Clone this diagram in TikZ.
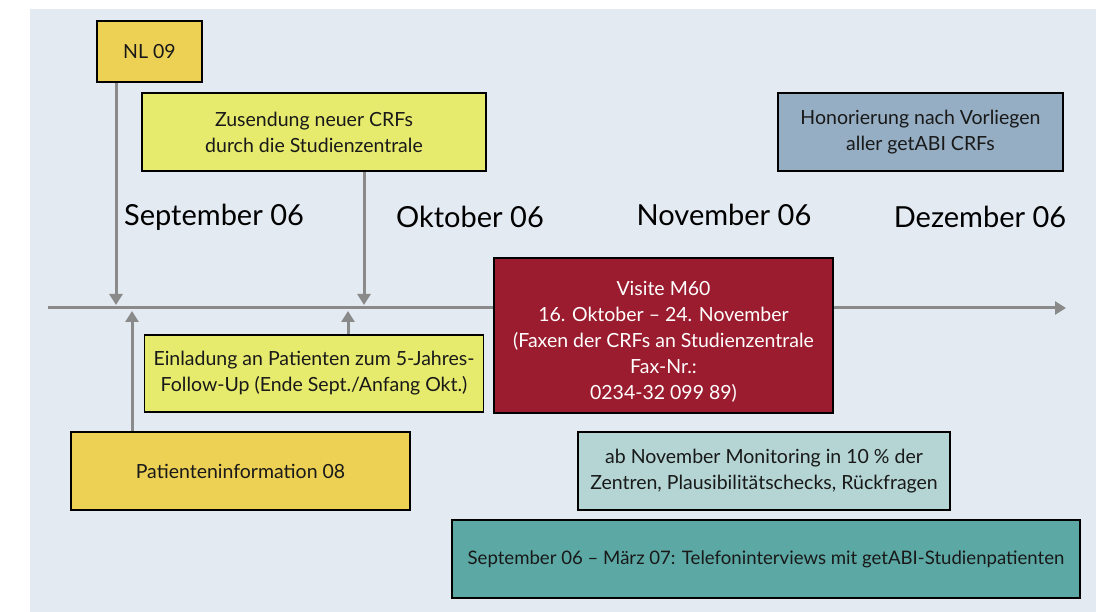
\documentclass[tikz,border=0pt]{standalone}
\usepackage{fontspec}
\setmainfont{Lato}
\usetikzlibrary{arrows.meta}
\definecolor{bg}{HTML}{E3EAF2}
\definecolor{gold}{HTML}{EDD155}
\definecolor{lemon}{HTML}{E6EA6D}
\definecolor{wine}{HTML}{9B1C2E}
\definecolor{slate}{HTML}{95AEC3}
\definecolor{mint}{HTML}{B4D5D4}
\definecolor{teal2}{HTML}{5BA8A4}
\definecolor{axisgray}{HTML}{8A8A8A}
\tikzset{
  box/.style={draw=black, line width=1.5pt, align=center, inner sep=0pt,
    font=\fontsize{19.5}{26}\selectfont, text=black!90},
  month/.style={font=\fontsize{29}{32}\selectfont, text=black},
  arr/.style={draw=axisgray, line width=3pt, -{Triangle[width=13pt,length=11pt]}},
}
\begin{document}
\begin{tikzpicture}[x=1pt,y=-1pt]
\useasboundingbox (0,0) rectangle (1096,612);
\fill[bg] (30,9) rectangle (1096,612);

% axis
\coordinate (axstart) at (48,308);
\coordinate (axend) at (1066,308);
\draw[arr] (axstart) -- (axend);

% month labels
\node[month] (sep) at (214,217) {September 06};
\node[month] (okt) at (470,217) {Oktober 06};
\node[month] (nov) at (724,215) {November 06};
\node[month] (dez) at (980,217) {Dezember 06};

% boxes
\node[box, fill=gold, minimum width=105pt, minimum height=61pt] (nl) at (149.5,51.5) {NL 09};
\node[box, fill=lemon, minimum width=344pt, minimum height=78pt] (zus) at (314,132) {Zusendung neuer CRFs\\durch die Studienzentrale};
\node[box, fill=slate, minimum width=285pt, minimum height=78pt] (hon) at (920.5,132) {Honorierung nach Vorliegen\\aller getABI CRFs};
\node[box, fill=wine, text=white, minimum width=339pt, minimum height=155pt] (vis) at (663.5,335.5)
  {\rule{0pt}{26pt}Visite M60\\16. Oktober – 24. November\\(Faxen der CRFs an Studienzentrale\\Fax-Nr.:\\0234-32 099 89)};
\node[box, fill=lemon, minimum width=339pt, minimum height=77pt] (ein) at (314,373.5) {Einladung an Patienten zum 5-Jahres-\\Follow-Up (Ende Sept./Anfang Okt.)};
\node[box, fill=gold, minimum width=339pt, minimum height=78pt] (pat) at (240.5,471) {Patienteninformation 08};
\node[box, fill=mint, minimum width=372pt, minimum height=78pt] (mon) at (764,471) {ab November Monitoring in 10 \% der\\Zentren, Plausibilitätschecks, Rückfragen};
\node[box, fill=teal2, minimum width=628pt, minimum height=78pt, font=\fontsize{18.6}{24}\selectfont] (tel) at (766,559) {September 06 – März 07: Telefoninterviews mit getABI-Studienpatienten};

% arrow targets on the axis
\coordinate (d1) at (116,305);
\coordinate (d2) at (364,305);
\coordinate (u1) at (132,311);
\coordinate (u2) at (348,311);
\draw[arr] (nl.south -| d1) -- (d1);
\draw[arr] (zus.south -| d2) -- (d2);
\draw[arr] (pat.north -| u1) -- (u1);
\draw[arr] (ein.north -| u2) -- (u2);
\end{tikzpicture}
\end{document}
